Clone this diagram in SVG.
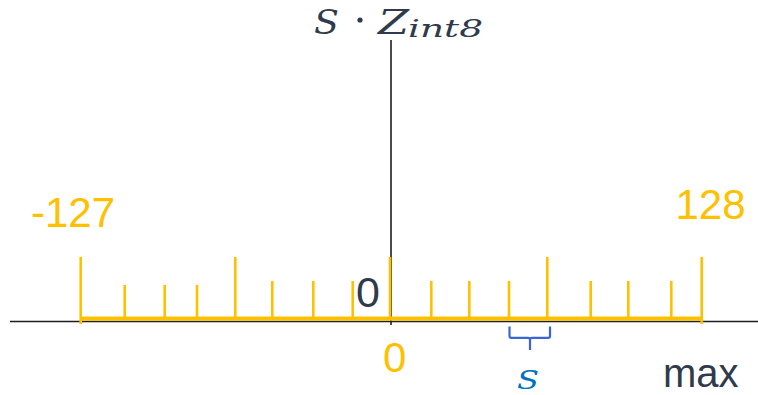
<svg xmlns="http://www.w3.org/2000/svg" width="758" height="395" viewBox="0 0 758 395">
  <style>
    .axis { stroke: #1e1e1e; stroke-width: 1.6; fill: none; }
    .tick { stroke: #FFC000; stroke-width: 2.6; fill: none; }
    .band { fill: #FFC000; }
    .num { font-family: "Liberation Sans", Arial, sans-serif; font-size: 42px; fill: #FFC000; }
    .dark { font-family: "Liberation Sans", Arial, sans-serif; fill: #2F3A4C; }
    .math { font-family: "DejaVu Serif", "Liberation Serif", serif; font-style: italic; fill: #2F3A4C; }
    .brace { stroke: #3B64D8; stroke-width: 2.2; fill: none; stroke-linejoin: round; }
  </style>
  <rect width="758" height="395" fill="#ffffff"/>

  <g id="connectors">
    <line class="axis" x1="10" y1="321.5" x2="758" y2="321.5"/>
    <line class="axis" x1="391" y1="40" x2="391" y2="325"/>
  </g>

  <g id="scale">
    <rect class="band" x="80" y="316.5" width="622" height="4.2"/>
    <g class="ticks">
      <line class="tick" x1="80.7" y1="257" x2="80.7" y2="324"/>
      <line class="tick" x1="124.7" y1="285" x2="124.7" y2="318"/>
      <line class="tick" x1="164.7" y1="285" x2="164.7" y2="318"/>
      <line class="tick" x1="197" y1="285" x2="197" y2="318"/>
      <line class="tick" x1="235.3" y1="257" x2="235.3" y2="318"/>
      <line class="tick" x1="272.3" y1="281" x2="272.3" y2="318"/>
      <line class="tick" x1="313.3" y1="281" x2="313.3" y2="318"/>
      <line class="tick" x1="352.7" y1="281" x2="352.7" y2="318"/>
      <line class="tick" x1="390" y1="257" x2="390" y2="318"/>
      <line class="tick" x1="431.3" y1="281" x2="431.3" y2="318"/>
      <line class="tick" x1="469.3" y1="281" x2="469.3" y2="318"/>
      <line class="tick" x1="509" y1="281" x2="509" y2="318"/>
      <line class="tick" x1="547.3" y1="257" x2="547.3" y2="318"/>
      <line class="tick" x1="590.7" y1="281" x2="590.7" y2="318"/>
      <line class="tick" x1="628.3" y1="281" x2="628.3" y2="318"/>
      <line class="tick" x1="671.3" y1="281" x2="671.3" y2="318"/>
      <line class="tick" x1="701.7" y1="257" x2="701.7" y2="324"/>
    </g>
  </g>

  <g id="label-min">
    <text class="num" x="31" y="226.5">-127</text>
  </g>
  <g id="label-max-value">
    <text class="num" x="675.5" y="218.5">128</text>
  </g>
  <g id="label-zero-dark">
    <text class="dark" x="356" y="306.5" font-size="43">0</text>
  </g>
  <g id="label-zero-yellow">
    <text class="num" x="383" y="371.5" font-size="43">0</text>
  </g>
  <g id="label-max">
    <text class="dark" x="663" y="386.5" font-size="40">max</text>
  </g>

  <g id="axis-title">
    <text class="math" x="314" y="33.5" font-size="33" textLength="25" lengthAdjust="spacingAndGlyphs">S</text>
    <circle cx="360" cy="20" r="2.6" fill="#2F3A4C"/>
    <text class="math" x="378" y="33.5" font-size="33" textLength="31" lengthAdjust="spacingAndGlyphs">Z</text>
    <text class="math" x="408" y="36.7" font-size="24" textLength="75" lengthAdjust="spacingAndGlyphs">int8</text>
  </g>

  <g id="step">
    <path class="brace" d="M509.5,326.5 V336 q0,1.8 1.8,1.8 H528 q2,0 2,2 V350 M530,339.8 q0,-2 2,-2 H548.2 q1.8,0 1.8,-1.8 V326.5"/>
    <text class="math" x="517" y="389" font-size="26" textLength="22" lengthAdjust="spacingAndGlyphs" style="fill:#0070C0">S</text>
  </g>
</svg>
